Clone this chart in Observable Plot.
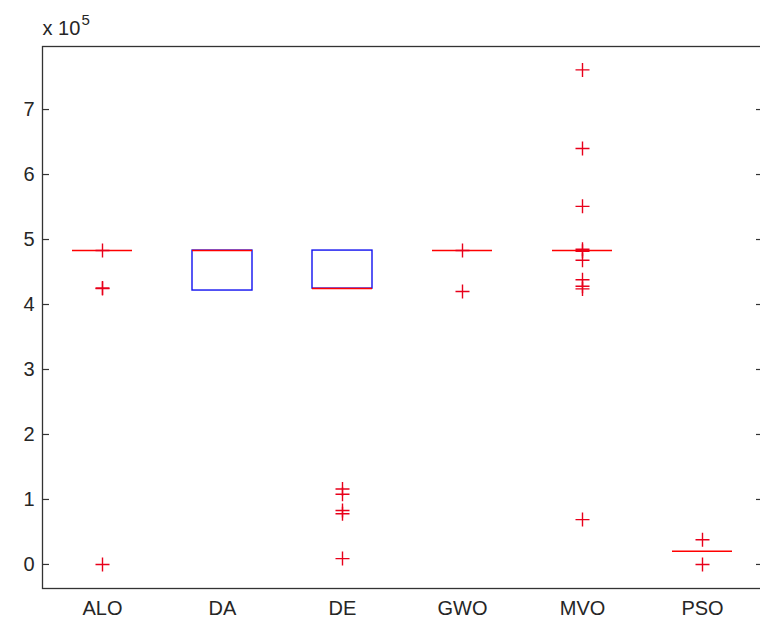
<!DOCTYPE html>
<html>
<head>
<meta charset="utf-8">
<script src="https://cdn.jsdelivr.net/npm/d3@7"></script>
<script src="https://cdn.jsdelivr.net/npm/@observablehq/plot@0.6"></script>
<style>
  html, body { margin: 0; padding: 0; overflow: hidden; background: #fff; width: 760px; height: 620px; }
  #chart svg { max-width: none !important; }
</style>
</head>
<body>
<div id="chart"></div>
<script>
// Box statistics per algorithm (raw objective values)
const methods = ["ALO", "DA", "DE", "GWO", "MVO", "PSO"];
const lowerQuartile = [483000, 421500, 424500, 483000, 483000, 20500];
const medianValue   = [483000, 483000, 424500, 483000, 483000, 20500];
const upperQuartile = [483000, 483000, 483000, 483000, 483000, 20500];

// Outliers drawn as "+" markers
const outlierValues = [
  [483000, 425500, 424500, 0],
  [],
  [116000, 108000, 83000, 78000, 9000],
  [483000, 420000],
  [761000, 640000, 551000, 485000, 482000, 468000, 438000, 428000, 424000, 69000],
  [38000, 0]
];

// Axis ticks, shown in units of 10^5
const yTickLabels = [0, 1, 2, 3, 4, 5, 6, 7];
const exponent = 5;
const unit = Math.pow(10, exponent);

const boxes = methods.map((m, i) => ({
  method: m, pos: i + 1,
  q1: lowerQuartile[i], median: medianValue[i], q3: upperQuartile[i]
}));
const outliers = methods.flatMap((m, i) =>
  outlierValues[i].map(v => ({ method: m, pos: i + 1, value: v })));

// "+" marker as a stroked d3-style symbol
const plusSymbol = {
  draw(context, size) {
    const r = Math.sqrt(size / Math.PI);
    context.moveTo(-r, 0); context.lineTo(r, 0);
    context.moveTo(0, -r); context.lineTo(0, r);
  }
};

const axisColor = "#333";
const textColor = "#262626";
const font = "'Liberation Sans', Arial, Helvetica, sans-serif";

const chart = Plot.plot({
  width: 762,
  height: 620,
  marginLeft: 42,
  marginRight: 0,
  marginTop: 46,
  marginBottom: 32,
  style: { fontFamily: font, fontSize: "20px", color: textColor, background: "#fff", maxWidth: "none" },
  x: { type: "linear", domain: [0.5, 6.5], axis: null, label: null },
  y: { domain: [-0.37 * unit, 7.97 * unit], axis: null, label: null },
  marks: [
    Plot.frame({ stroke: axisColor, strokeWidth: 1.3 }),
    // inward ticks on both vertical sides
    Plot.axisY({ ticks: yTickLabels.map(t => t * unit), tickSize: -7, tickFormat: () => "", label: null, stroke: axisColor, strokeWidth: 1.2 }),
    Plot.axisY({ anchor: "right", ticks: yTickLabels.map(t => t * unit), tickSize: -7, tickFormat: () => "", label: null, stroke: axisColor, strokeWidth: 1.2 }),
    Plot.axisY({ ticks: yTickLabels.map(t => t * unit), tickSize: 0, tickPadding: 8, tickFormat: d => String(d / unit), label: null, fill: textColor, fontSize: 20 }),
    Plot.axisX({ ticks: methods.map((m, i) => i + 1), tickSize: 0, tickPadding: 12, tickFormat: d => methods[d - 1], label: null, fill: textColor, fontSize: 20 }),
    // exponent label above the axis
    Plot.text(["x 10"], { frameAnchor: "top-left", textAnchor: "start", lineAnchor: "middle", dy: -17.5, fill: textColor, fontSize: 20 }),
    Plot.text([String(exponent)], { frameAnchor: "top-left", textAnchor: "start", lineAnchor: "middle", dx: 39, dy: -26, fill: textColor, fontSize: 15 }),
    // boxes
    Plot.rect(boxes, { x1: d => d.pos - 0.25, x2: d => d.pos + 0.25, y1: "q1", y2: "q3", fill: "none", stroke: "#1010f0", strokeWidth: 1.4 }),
    // medians
    Plot.ruleY(boxes, { x1: d => d.pos - 0.25, x2: d => d.pos + 0.25, y: "median", stroke: "#f00", strokeWidth: 1.5 }),
    // outliers
    Plot.dot(outliers, { x: "pos", y: "value", r: 7, symbol: plusSymbol, fill: "none", stroke: "#e8001a", strokeWidth: 1.4 })
  ]
});

document.getElementById("chart").appendChild(chart);
</script>
</body>
</html>
